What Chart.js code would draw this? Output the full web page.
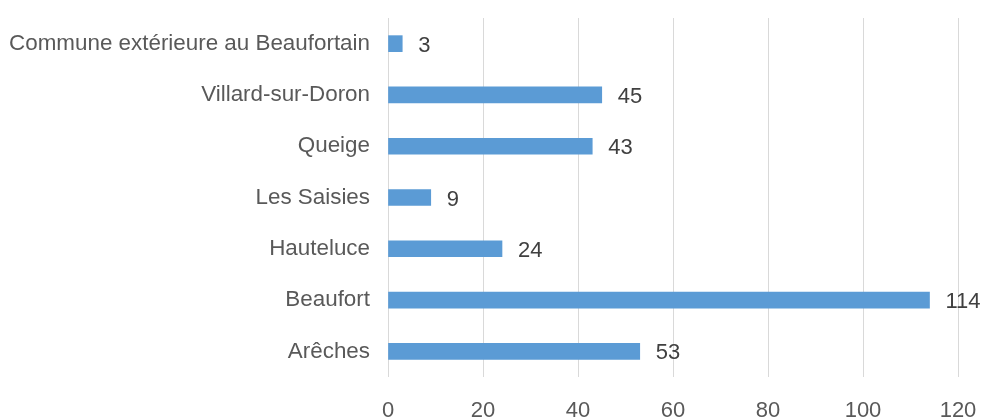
<!DOCTYPE html>
<html>
<head>
<meta charset="utf-8">
<script src="https://cdn.jsdelivr.net/npm/chart.js@4"></script>
<style>
  html, body { margin: 0; padding: 0; background: #fff; }
  #wrap { width: 983px; height: 417px; }
</style>
</head>
<body>
<div id="wrap"><canvas id="chart"></canvas></div>
<script>
// Data
const communes = [
    "Commune extérieure au Beaufortain",
    "Villard-sur-Doron",
    "Queige",
    "Les Saisies",
    "Hauteluce",
    "Beaufort",
    "Arêches",
];
const effectifs = [3, 45, 43, 9, 24, 114, 53];
const xTicks = [0, 20, 40, 60, 80, 100, 120];

const FONT = "'Liberation Sans', Arial, sans-serif";

// valeurs à droite des barres
const valueLabels = {
    id: "valueLabels",
    afterDatasetsDraw(chart) {
        const c = chart.ctx;
        const meta = chart.getDatasetMeta(0);
        c.save();
        c.font = "22px " + FONT;
        c.fillStyle = "#404040";
        c.textBaseline = "middle";
        c.textAlign = "left";
        meta.data.forEach((bar, i) => {
            c.fillText(String(effectifs[i]), bar.x + 16, bar.y + 2);
        });
        c.restore();
    },
};

new Chart(document.getElementById("chart").getContext("2d"), {
    type: "bar",
    data: {
        labels: communes,
        datasets: [
            {
                data: effectifs,
                backgroundColor: "#5B9BD5",
                borderWidth: 0,
                barThickness: 16,
            },
        ],
    },
    options: {
        indexAxis: "y",
        responsive: true,
        maintainAspectRatio: false,
        animation: false,
        layout: { padding: { top: 18, right: 25, left: 0, bottom: 0 } },
        plugins: { legend: { display: false }, tooltip: { enabled: false } },
        scales: {
            x: {
                min: 0,
                max: 120,
                afterBuildTicks: (axis) => {
                    axis.ticks = xTicks.map((v) => ({ value: v }));
                },
                afterFit: (axis) => {
                    axis.height = 40;
                    axis.paddingLeft = 0;
                    axis.paddingRight = 0;
                },
                grid: { color: "#d9d9d9", drawTicks: false },
                border: { display: false },
                ticks: {
                    padding: 21,
                    color: "#595959",
                    font: { family: FONT, size: 22 },
                },
            },
            y: {
                afterFit: (axis) => {
                    axis.width = 388;
                    axis.paddingTop = 0;
                    axis.paddingBottom = 0;
                },
                grid: { display: false, drawTicks: false },
                border: { display: false },
                ticks: {
                    padding: 18,
                    color: "#595959",
                    font: { family: FONT, size: 22.4 },
                },
            },
        },
    },
    plugins: [valueLabels],
});
</script>
</body>
</html>
